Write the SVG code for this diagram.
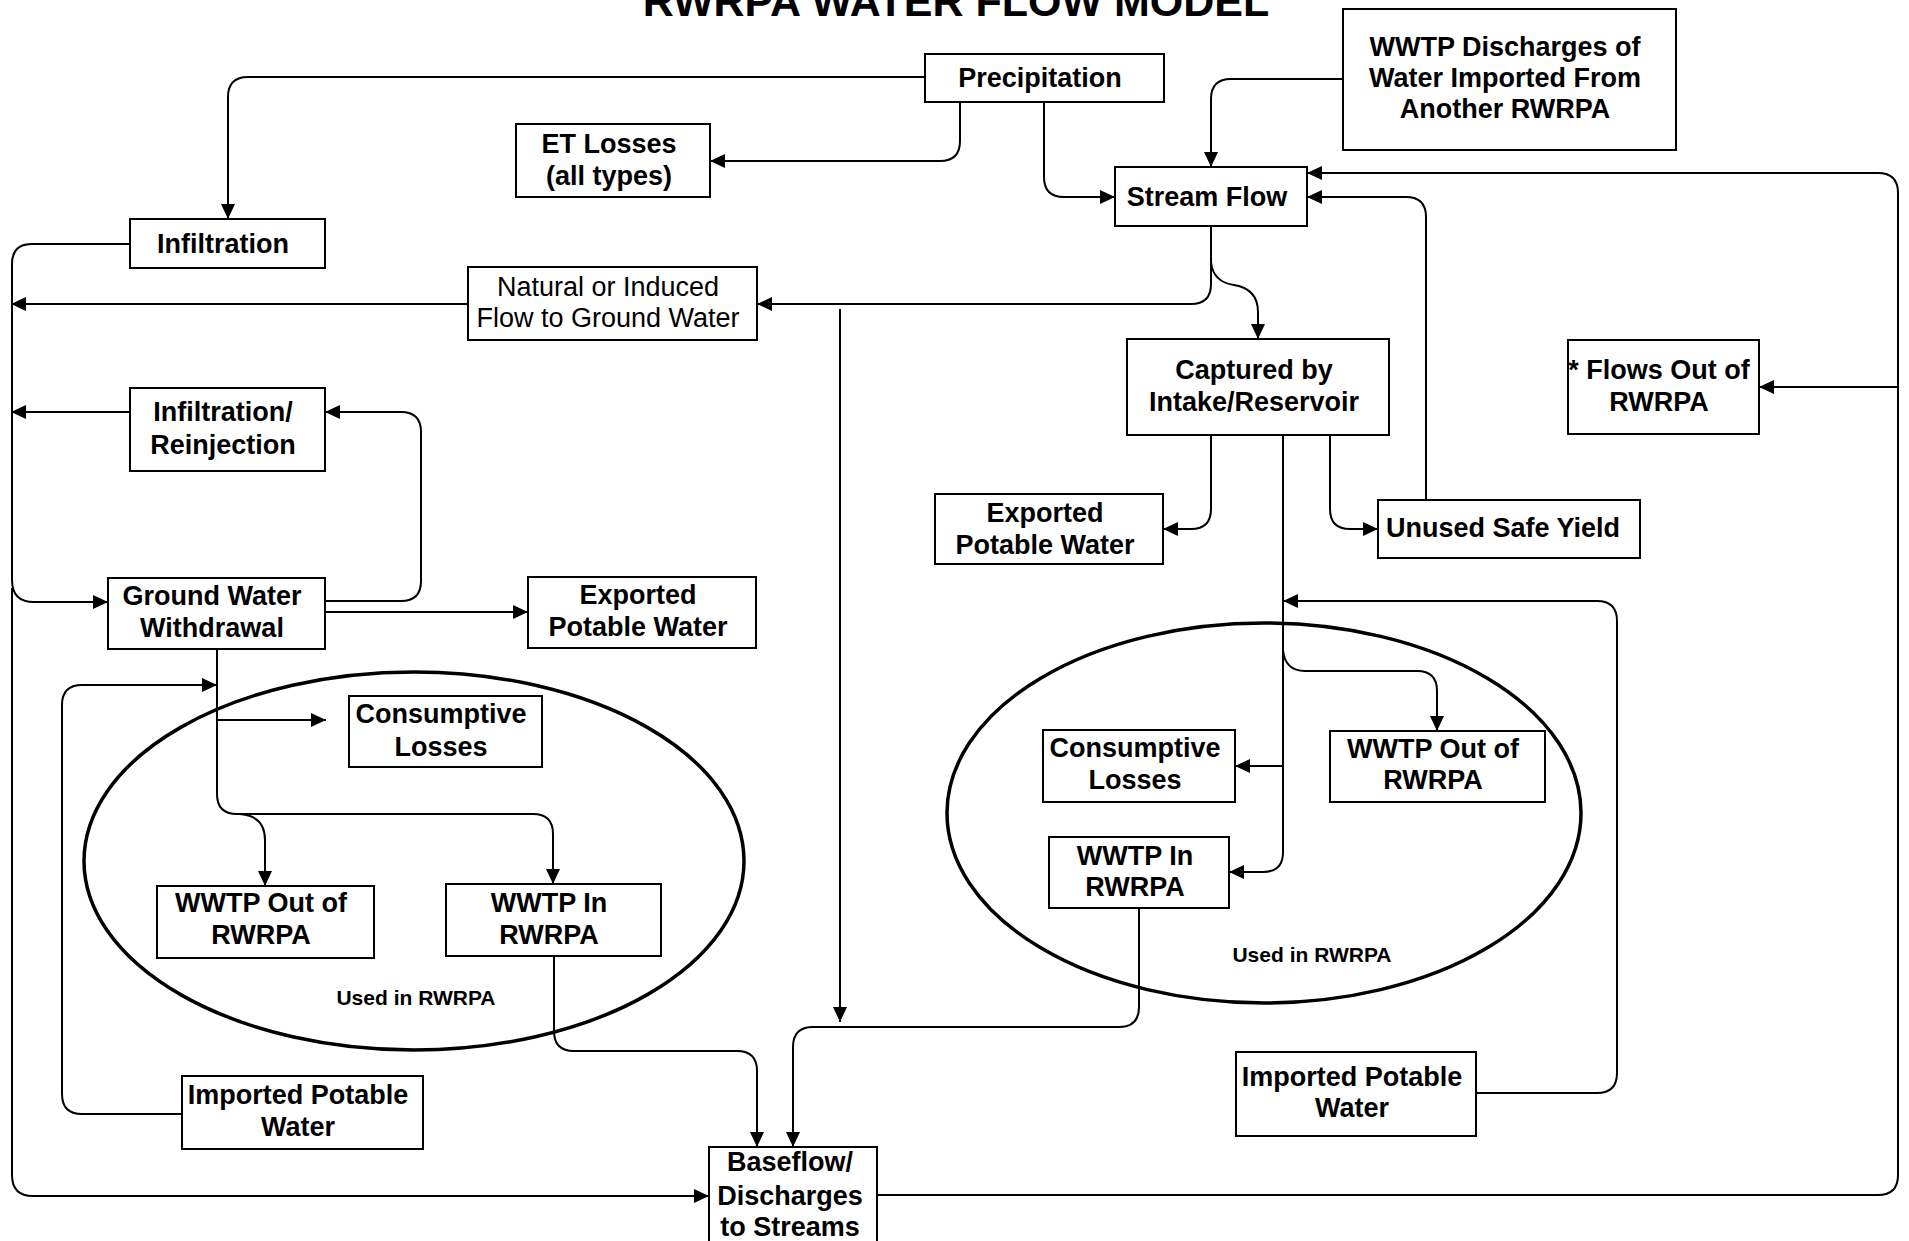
<svg xmlns="http://www.w3.org/2000/svg" width="1909" height="1241" viewBox="0 0 1909 1241">
<defs>
<marker id="ah" markerUnits="userSpaceOnUse" markerWidth="17" markerHeight="15" refX="15" refY="7" orient="auto">
<path d="M0,0 L15,7 L0,14 z" fill="#000"/>
</marker>
<style>
.box{fill:#fff;stroke:#000;stroke-width:2}
.t{font-family:"Liberation Sans",Arial,sans-serif;font-weight:bold;font-size:27px;text-anchor:middle;fill:#000}
.tr{font-family:"Liberation Sans",Arial,sans-serif;font-weight:normal;font-size:27px;text-anchor:middle;fill:#000}
.s{font-family:"Liberation Sans",Arial,sans-serif;font-weight:bold;font-size:21px;text-anchor:middle;fill:#000}
.c{fill:none;stroke:#000;stroke-width:2}
.a{fill:none;stroke:#000;stroke-width:2;marker-end:url(#ah)}
.e{fill:none;stroke:#000;stroke-width:3.5}
</style>
</defs>
<rect width="1909" height="1241" fill="#fff"/>
<text x="956" y="16" style="font-family:'Liberation Sans',Arial,sans-serif;font-weight:bold;font-size:43px;text-anchor:middle">RWRPA WATER FLOW MODEL</text>

<g id="regions">
<ellipse id="used-left" class="e" cx="414" cy="861" rx="330" ry="189"/>
<ellipse id="used-right" class="e" cx="1264" cy="813" rx="317" ry="190"/>
<text class="s" x="416" y="1005">Used in RWRPA</text>
<text class="s" x="1312" y="962">Used in RWRPA</text>
</g>

<g id="connectors">
<path class="a" d="M925,77 H248 Q228,77 228,97 V219"/>
<path class="a" d="M960,102 V141 Q960,161 940,161 H710"/>
<path class="a" d="M1044,102 V177 Q1044,197 1064,197 H1115"/>
<path class="a" d="M1343,79 H1231 Q1211,79 1211,99 V167"/>
<path class="a" d="M1211,226 V284 Q1211,304 1191,304 H757"/>
<path class="a" d="M1211,262 Q1213,282 1234,285 Q1258,289 1258,312 V339"/>
<path class="a" d="M468,304 H11"/>
<path class="a" d="M130,244 H32 Q12,244 12,264 V580 Q12,602 34,602 H108"/>
<path class="a" d="M130,412 H11"/>
<path class="a" d="M325,601 H401 Q421,601 421,581 V432 Q421,412 401,412 H325"/>
<path class="a" d="M325,612 H528"/>
<path class="a" d="M217,649 V794 Q217,814 237,814 H533 Q553,814 553,834 V884"/>
<path class="a" d="M240,814 Q265,816 265,840 V886"/>
<path class="a" d="M217,720 H326"/>
<path class="a" d="M182,1114 H82 Q62,1114 62,1094 V705 Q62,685 82,685 H217"/>
<path class="a" d="M12,588 V1175 Q12,1196 33,1196 H709"/>
<path class="a" d="M877,1195 H1878 Q1898,1195 1898,1175 V193 Q1898,173 1878,173 H1307"/>
<path class="a" d="M1898,387 H1759"/>
<path class="a" d="M1426,500 V217 Q1426,197 1406,197 H1307"/>
<path class="a" d="M1211,435 V509 Q1211,529 1191,529 H1163"/>
<path class="a" d="M1330,435 V509 Q1330,529 1350,529 H1378"/>
<path class="a" d="M1283,435 V852 Q1283,872 1263,872 H1229"/>
<path class="a" d="M1283,766 H1235"/>
<path class="a" d="M1283,650 Q1285,671 1305,671 H1417 Q1437,671 1437,691 V731"/>
<path class="a" d="M1476,1093 H1597 Q1617,1093 1617,1073 V621 Q1617,601 1597,601 H1283"/>
<path class="a" d="M840,309 V1022"/>
<path class="a" d="M554,956 V1031 Q554,1051 574,1051 H737 Q757,1051 757,1071 V1147"/>
<path class="a" d="M1139,908 V1007 Q1139,1027 1119,1027 H813 Q793,1027 793,1047 V1147"/>
</g>

<g id="precipitation"><rect class="box" x="925" y="54" width="239" height="48"/><text class="t" x="1040" y="87">Precipitation</text></g>
<g id="wwtp-discharges-imported"><rect class="box" x="1343" y="9" width="333" height="141"/><text class="t" x="1505" y="56">WWTP Discharges of</text><text class="t" x="1505" y="87">Water Imported From</text><text class="t" x="1505" y="118">Another RWRPA</text></g>
<g id="et-losses"><rect class="box" x="516" y="124" width="194" height="73"/><text class="t" x="609" y="153">ET Losses</text><text class="t" x="609" y="185">(all types)</text></g>
<g id="stream-flow"><rect class="box" x="1115" y="167" width="192" height="59"/><text class="t" x="1207" y="206">Stream Flow</text></g>
<g id="infiltration"><rect class="box" x="130" y="219" width="195" height="49"/><text class="t" x="223" y="253">Infiltration</text></g>
<g id="natural-flow"><rect class="box" x="468" y="267" width="289" height="73"/><text class="tr" x="608" y="296">Natural or Induced</text><text class="tr" x="608" y="327">Flow to Ground Water</text></g>
<g id="captured"><rect class="box" x="1127" y="339" width="262" height="96"/><text class="t" x="1254" y="379">Captured by</text><text class="t" x="1254" y="411">Intake/Reservoir</text></g>
<g id="flows-out"><rect class="box" x="1568" y="340" width="191" height="94"/><text class="t" x="1659" y="379">* Flows Out of</text><text class="t" x="1659" y="411">RWRPA</text></g>
<g id="infiltration-reinjection"><rect class="box" x="130" y="388" width="195" height="83"/><text class="t" x="223" y="421">Infiltration/</text><text class="t" x="223" y="454">Reinjection</text></g>
<g id="exported-right"><rect class="box" x="935" y="494" width="228" height="70"/><text class="t" x="1045" y="522">Exported</text><text class="t" x="1045" y="554">Potable Water</text></g>
<g id="unused-safe-yield"><rect class="box" x="1378" y="500" width="262" height="58"/><text class="t" x="1503" y="537">Unused Safe Yield</text></g>
<g id="ground-water-withdrawal"><rect class="box" x="108" y="578" width="217" height="71"/><text class="t" x="212" y="605">Ground Water</text><text class="t" x="212" y="637">Withdrawal</text></g>
<g id="exported-left"><rect class="box" x="528" y="577" width="228" height="71"/><text class="t" x="638" y="604">Exported</text><text class="t" x="638" y="636">Potable Water</text></g>
<g id="consumptive-left"><rect class="box" x="349" y="696" width="193" height="71"/><text class="t" x="441" y="723">Consumptive</text><text class="t" x="441" y="756">Losses</text></g>
<g id="consumptive-right"><rect class="box" x="1043" y="730" width="192" height="72"/><text class="t" x="1135" y="757">Consumptive</text><text class="t" x="1135" y="789">Losses</text></g>
<g id="wwtp-out-right"><rect class="box" x="1330" y="731" width="215" height="71"/><text class="t" x="1433" y="758">WWTP Out of</text><text class="t" x="1433" y="789">RWRPA</text></g>
<g id="wwtp-in-right"><rect class="box" x="1049" y="837" width="180" height="71"/><text class="t" x="1135" y="865">WWTP In</text><text class="t" x="1135" y="896">RWRPA</text></g>
<g id="wwtp-out-left"><rect class="box" x="157" y="886" width="217" height="72"/><text class="t" x="261" y="912">WWTP Out of</text><text class="t" x="261" y="944">RWRPA</text></g>
<g id="wwtp-in-left"><rect class="box" x="446" y="884" width="215" height="72"/><text class="t" x="549" y="912">WWTP In</text><text class="t" x="549" y="944">RWRPA</text></g>
<g id="imported-right"><rect class="box" x="1236" y="1052" width="240" height="84"/><text class="t" x="1352" y="1086">Imported Potable</text><text class="t" x="1352" y="1117">Water</text></g>
<g id="imported-left"><rect class="box" x="182" y="1076" width="241" height="73"/><text class="t" x="298" y="1104">Imported Potable</text><text class="t" x="298" y="1136">Water</text></g>
<g id="baseflow"><rect class="box" x="709" y="1147" width="168" height="110"/><text class="t" x="790" y="1171">Baseflow/</text><text class="t" x="790" y="1205">Discharges</text><text class="t" x="790" y="1236">to Streams</text></g>
</svg>
